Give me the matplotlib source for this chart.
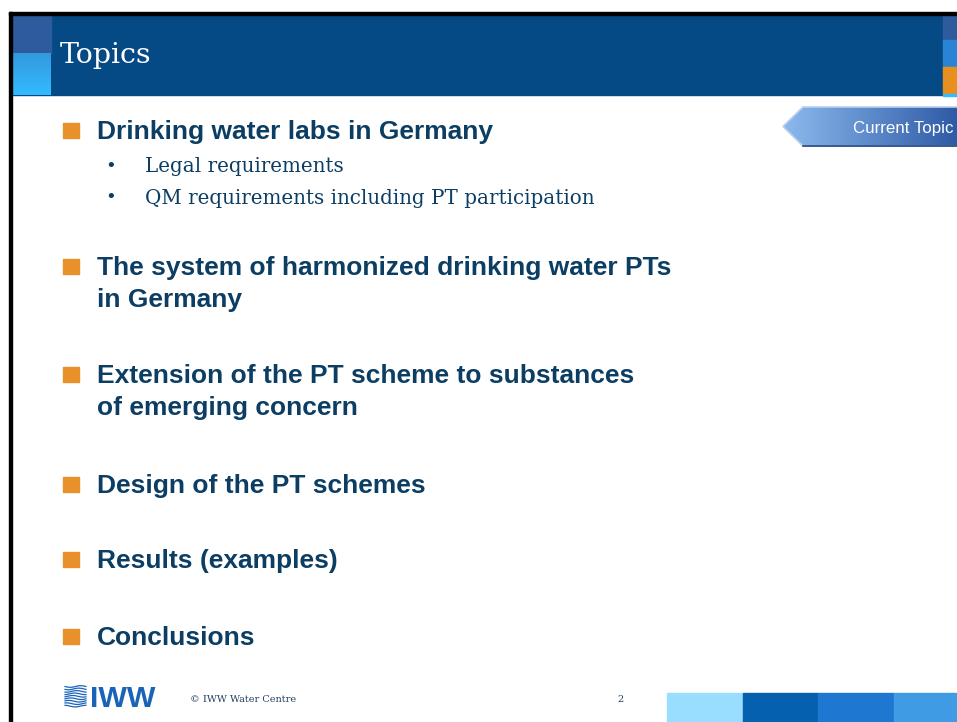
import numpy as np
import matplotlib.pyplot as plt
from matplotlib.patches import Rectangle, Polygon
from matplotlib.colors import LinearSegmentedColormap

# slide content
title = "Topics"
topics = [
    ["Drinking water labs in Germany"],
    ["The system of harmonized drinking water PTs", "in Germany"],
    ["Extension of the PT scheme to substances", "of emerging concern"],
    ["Design of the PT schemes"],
    ["Results (examples)"],
    ["Conclusions"],
]
sub_items = [
    ["Legal requirements", "QM requirements including PT participation"],
    [], [], [], [], [],
]
tag_label = "Current Topic"
footer_text = "\u00a9 IWW Water Centre"
logo_text = "IWW"
page_no = "2"
footer_bar_colors = ["#99ddff", "#0560b0", "#1e78d2", "#409be5"]

NAVY = "#0c3e64"
ORANGE = "#e8902a"
HEADER = "#064a85"

W, H = 957, 722
fig = plt.figure(figsize=(W / 100, H / 100), dpi=100)
ax = fig.add_axes([0, 0, 1, 1])
ax.set_xlim(0, W)
ax.set_ylim(H, 0)
ax.axis("off")


def grad(ax, x0, x1, y0, y1, c0, c1, horizontal=False, clip=None, z=2):
    cmap = LinearSegmentedColormap.from_list("g", [c0, c1])
    g = np.linspace(0, 1, 256)
    img = g[None, :] if horizontal else g[:, None]
    im = ax.imshow(img, cmap=cmap, extent=(x0, x1, y1, y0), aspect="auto",
                   zorder=z, interpolation="bilinear")
    if clip is not None:
        im.set_clip_path(clip)
    return im


# frame lines
ax.add_patch(Rectangle((9, 12), 3, H - 12, color="black", zorder=5))
ax.add_patch(Rectangle((9, 12), W - 9, 3, color="black", zorder=5))

# header band
ax.add_patch(Rectangle((12, 15), 931, 80, color=HEADER, zorder=1))
ax.add_patch(Rectangle((12, 15), 39, 38, color="#2e5a9e", zorder=2))
grad(ax, 12, 51, 53, 95, "#3399dd", "#33bbff")
ax.text(60, 63.3, title, color="white", fontsize=20.5, family="DejaVu Serif",
        va="baseline", ha="left", zorder=6)

# right edge strip
ax.add_patch(Rectangle((943, 15), 14, 25, color="#2e5a9e", zorder=2))
ax.add_patch(Rectangle((943, 40), 14, 27, color="#2a84d6", zorder=2))
ax.add_patch(Rectangle((943, 67), 14, 27, color="#e8901f", zorder=2))
ax.add_patch(Rectangle((943, 94), 14, 2, color="#33bbff", zorder=2))

# "Current Topic" tag
pts = [(783, 126.5), (803, 107), (W + 5, 107), (W + 5, 146), (803, 146)]
arrow = Polygon(pts, closed=True, facecolor="none", edgecolor="#b8cfee",
                lw=1.2, zorder=4)
ax.add_patch(arrow)
grad(ax, 783, W + 5, 107, 146, "#8cbaee", "#2c58a4", horizontal=True,
     clip=arrow, z=3)
ax.plot([803, W], [145.5, 145.5], color="#24467e", lw=1.2, zorder=4)
ax.text(853, 132.5, tag_label, color="white", fontsize=12.2,
        family="Liberation Sans", va="baseline", ha="left", zorder=6)

# bullet list
first_baselines = [139.3, 275, 383.3, 493.3, 568.3, 645]
line_gap = 31.7
for i, lines in enumerate(topics):
    b = first_baselines[i]
    ax.add_patch(Rectangle((63, b - 16.5), 15.5, 15.5, color=ORANGE, zorder=3))
    for j, line in enumerate(lines):
        ax.text(97, b + j * line_gap, line, color=NAVY, fontsize=19,
                family="Liberation Sans", weight="bold", va="baseline",
                ha="left", zorder=6)
    for k, item in enumerate(sub_items[i]):
        sb = b + 33 + k * 31.2
        ax.text(111, sb, "\u2022", color=NAVY, fontsize=13,
                family="DejaVu Serif", va="baseline", ha="center", zorder=6)
        ax.text(145, sb, item, color=NAVY, fontsize=14.3,
                family="DejaVu Serif", va="baseline", ha="left", zorder=6)

# footer: logo waves + text
xs = np.linspace(65, 86, 60)
for n in range(9):
    y0 = 686.5 + n * 2.45
    ax.plot(xs, y0 + 0.8 * np.sin((xs - 65) / 21 * 2 * np.pi + n * 0.6),
            color="#1a64b8", lw=0.9, zorder=4)
ax.text(90, 706.7, logo_text, color="#1a64b8", fontsize=21.8,
        family="Liberation Sans", weight="bold", va="baseline", ha="left",
        zorder=6)
ax.text(190, 702, footer_text, color="#23405e", fontsize=7,
        family="DejaVu Serif", va="baseline", ha="left", zorder=6)
ax.text(621, 702, page_no, color="#23405e", fontsize=7,
        family="DejaVu Serif", va="baseline", ha="center", zorder=6)

# footer colour bars
edges = [667, 743, 818, 894, W]
for c, x0, x1 in zip(footer_bar_colors, edges[:-1], edges[1:]):
    ax.add_patch(Rectangle((x0, 693), x1 - x0, H - 693, color=c, zorder=2))

fig.savefig("out.png", dpi=100)
